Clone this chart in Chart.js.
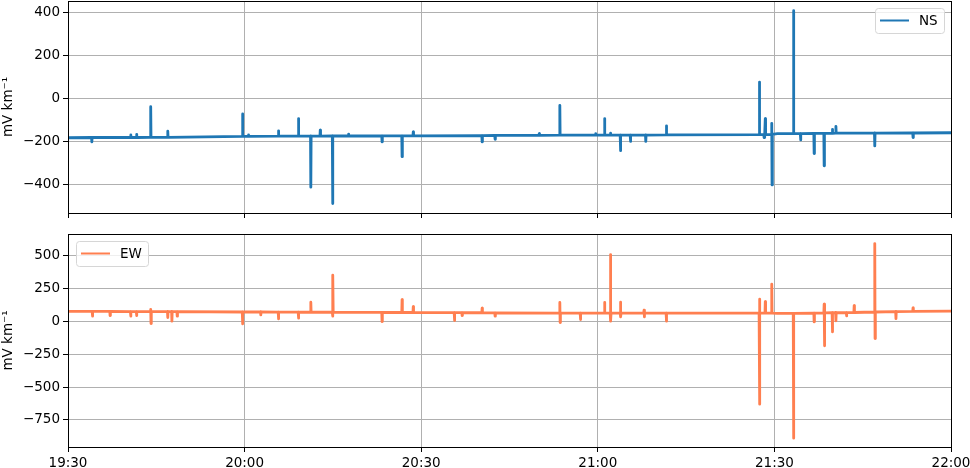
<!DOCTYPE html>
<html>
<head>
<meta charset="utf-8">
<script src="https://cdn.jsdelivr.net/npm/chart.js@4"></script>
<style>
  html, body { margin: 0; padding: 0; background: #fff; }
  #wrap { position: relative; width: 970px; height: 468px; }
  canvas { position: absolute; left: 0; }
  #nsChart { top: 0; }
  #ewChart { top: 230px; }
</style>
</head>
<body>
<div id="wrap">
  <canvas id="nsChart" width="970" height="230"></canvas>
  <canvas id="ewChart" width="970" height="238"></canvas>
</div>
<script>
// minutes after 19:30
const timeLabels = ['19:30', '20:00', '20:30', '21:00', '21:30', '22:00'];
const nsTicks = [-400, -200, 0, 200, 400];
const ewTicks = [-750, -500, -250, 0, 250, 500];

const nsMinutes = [
  0,
  4.0, 4.05, 4.1,
  10.6, 10.65, 10.7,
  11.6, 11.65, 11.7,
  14.0, 14.05, 14.1,
  16.9, 16.95, 17.0,
  29.6, 29.65, 29.7,
  30.6, 30.65, 30.7,
  35.7, 35.75, 35.8,
  39.1, 39.15, 39.2,
  41.2, 41.25, 41.3,
  42.8, 42.85, 42.9,
  44.9, 44.95, 45.0,
  47.6, 47.65, 47.7,
  53.3, 53.35, 53.4,
  56.7, 56.75, 56.8,
  58.6, 58.65, 58.7,
  70.3, 70.35, 70.4,
  72.5, 72.55, 72.6,
  80.0, 80.05, 80.1,
  83.5, 83.55, 83.6,
  89.6, 89.65, 89.7,
  91.1, 91.15, 91.2,
  92.1, 92.15, 92.2,
  93.8, 93.85, 93.9,
  95.5, 95.55, 95.6,
  98.1, 98.15, 98.2,
  101.6, 101.65, 101.7,
  117.4, 117.45, 117.5,
  118.2, 118.25, 118.3,
  118.4, 118.45, 118.5,
  119.5, 119.55, 119.6, 119.65,
  120.5,
  123.2, 123.25, 123.3,
  124.4, 124.45, 124.5,
  126.7, 126.75, 126.8,
  128.4, 128.45, 128.5,
  129.8, 129.85, 129.9,
  130.4, 130.45, 130.5,
  137.0, 137.05, 137.1,
  143.5, 143.55, 143.6,
  150
];
const nsValues = [
  -181,
  -180, -200, -180,
  -180, -168, -180,
  -180, -165, -180,
  -179, -37, -179,
  -179, -151, -179,
  -175, -71, -175,
  -175, -168, -175,
  -174, -149, -174,
  -174, -92, -174,
  -174, -410, -174,
  -174, -146, -174,
  -173, -486, -173,
  -173, -164, -173,
  -172, -200, -172,
  -172, -269, -172,
  -172, -154, -172,
  -171, -200, -171,
  -170, -188, -170,
  -170, -162, -170,
  -169, -31, -169,
  -169, -162, -169,
  -169, -92, -169,
  -169, -160, -169,
  -169, -241, -169,
  -169, -198, -169,
  -169, -198, -169,
  -168, -126, -168,
  -167, 77, -167,
  -167, -180, -167,
  -167, -92, -167,
  -167, -114, -400, -165,
  -162,
  -162, 408, -162,
  -162, -191, -162,
  -161, -254, -161,
  -161, -311, -161,
  -161, -142, -161,
  -160, -128, -160,
  -160, -219, -160,
  -159, -180, -159,
  -158
];

const ewMinutes = [
  0,
  4.1, 4.15, 4.2,
  7.1, 7.15, 7.2,
  10.6, 10.65, 10.7,
  11.6, 11.65, 11.7,
  14.0, 14.05, 14.1, 14.15,
  16.9, 16.95, 17.0,
  17.6, 17.65, 17.7,
  18.5, 18.55, 18.6,
  29.6, 29.65, 29.7,
  32.7, 32.75, 32.8,
  35.7, 35.75, 35.8,
  39.1, 39.15, 39.2,
  41.2, 41.25, 41.3,
  44.9, 44.95, 45.0, 45.05,
  53.3, 53.35, 53.4,
  56.7, 56.75, 56.8,
  58.6, 58.65, 58.7,
  65.6, 65.65, 65.7,
  66.9, 66.95, 67.0,
  70.3, 70.35, 70.4,
  72.5, 72.55, 72.6,
  83.5, 83.55, 83.6, 83.65,
  87.0, 87.05, 87.1,
  91.1, 91.15, 91.2,
  92.1, 92.15, 92.2, 92.25,
  93.8, 93.85, 93.9, 93.95,
  97.8, 97.85, 97.9, 97.95,
  101.6, 101.65, 101.7,
  117.4, 117.45, 117.5, 117.55,
  118.4, 118.45, 118.5,
  119.5, 119.55, 119.6,
  120.5,
  123.2, 123.25, 123.3,
  126.7, 126.75, 126.8,
  128.4, 128.45, 128.5, 128.55,
  129.8, 129.85, 129.9,
  130.4, 130.45, 130.5,
  132.2, 132.25, 132.3,
  133.5, 133.55, 133.6,
  137.0, 137.05, 137.1, 137.15,
  140.6, 140.65, 140.7,
  143.5, 143.55, 143.6,
  150
];
const ewValues = [
  74,
  74, 38, 74,
  74, 43, 74,
  73, 38, 73,
  73, 43, 73,
  73, 89, -18, 73,
  72, 28, 72,
  72, 0, 72,
  72, 38, 72,
  70, -20, 70,
  70, 48, 70,
  69, 18, 69,
  69, 23, 69,
  68, 144, 68,
  68, 38, 349, 68,
  67, -3, 67,
  66, 164, 66,
  66, 111, 66,
  65, 5, 65,
  65, 43, 65,
  64, 99, 64,
  63, 38, 63,
  62, 142, -10, 62,
  62, 13, 62,
  62, 142, 62,
  62, 506, 0, 62,
  62, 144, 33, 62,
  61, 83, 33, 61,
  61, 0, 61,
  61, 167, -630, 61,
  61, 149, 61,
  61, 281, 61,
  60,
  60, -888, 60,
  62, -5, 62,
  63, 129, -187, 63,
  64, -81, 64,
  64, 3, 64,
  65, 40, 65,
  66, 119, 66,
  70, 589, -132, 70,
  72, 20, 72,
  74, 101, 74,
  76
];

const NS_COLOR = '#1f77b4';
const EW_COLOR = '#ff7f50';
const FONT = 'DejaVu Sans';
const FONT_SIZE = 13.5;

Chart.defaults.font.family = FONT;
Chart.defaults.font.size = FONT_SIZE;
Chart.defaults.color = '#000';

// black box round the plot + matplotlib style legend
const frameAndLegend = {
  id: 'frameAndLegend',
  afterDraw(chart, args, opts) {
    const { ctx, chartArea: a } = chart;
    ctx.save();
    ctx.strokeStyle = '#000';
    ctx.lineWidth = 1;
    const l = Math.round(a.left) + 0.5, t = Math.round(a.top) + 0.5;
    const r = Math.round(a.right) + 0.5, b = Math.round(a.bottom) + 0.5;
    ctx.strokeRect(l, t, r - l, b - t);

    const w = opts.boxWidth, h = 25;
    const x = opts.side === 'right' ? a.right - 7 - w : a.left + 8;
    const y = a.top + 7;
    ctx.beginPath();
    ctx.roundRect(x + 0.5, y + 0.5, w, h, 3);
    ctx.fillStyle = 'rgba(255,255,255,0.8)';
    ctx.fill();
    ctx.strokeStyle = '#d6d6d6';
    ctx.stroke();

    ctx.beginPath();
    ctx.strokeStyle = opts.color;
    ctx.lineWidth = 2;
    ctx.moveTo(x + 5, y + h / 2);
    ctx.lineTo(x + 34, y + h / 2);
    ctx.stroke();

    ctx.fillStyle = '#000';
    ctx.font = FONT_SIZE + 'px "' + FONT + '"';
    ctx.textBaseline = 'middle';
    ctx.fillText(opts.label, x + 44, y + h / 2 + 1);
    ctx.restore();
  }
};

function makeChart(id, minutes, values, color, label, yMin, yMax, yTicks, showX, topPad, xHeight, legendSide, boxWidth) {
  const ctx = document.getElementById(id).getContext('2d');
  return new Chart(ctx, {
    type: 'line',
    data: {
      datasets: [{
        label: label,
        data: minutes.map((m, i) => ({ x: m, y: values[i] })),
        borderColor: color,
        borderWidth: 2.8,
        borderJoinStyle: 'round',
        pointRadius: 0,
        tension: 0,
        fill: false
      }]
    },
    options: {
      responsive: false,
      animation: false,
      events: [],
      layout: { padding: { left: 0, right: 19, top: topPad, bottom: 0 } },
      plugins: {
        legend: { display: false },
        tooltip: { enabled: false },
        frameAndLegend: { label: label, color: color, side: legendSide, boxWidth: boxWidth }
      },
      scales: {
        x: {
          type: 'linear',
          min: 0,
          max: 150,
          afterBuildTicks: (scale) => {
            scale.ticks = timeLabels.map((t, i) => ({ value: i * 30 }));
          },
          afterFit: (scale) => {
            scale.height = xHeight;
            scale.paddingLeft = 0;
            scale.paddingRight = 0;
          },
          ticks: {
            maxRotation: 0,
            autoSkip: false,
            padding: 3,
            callback: (v) => showX ? timeLabels[Math.round(v / 30)] : ''
          },
          grid: { color: '#b0b0b0', lineWidth: 1, tickColor: '#000', tickLength: 5 },
          border: { color: '#000', width: 1 }
        },
        y: {
          min: yMin,
          max: yMax,
          afterBuildTicks: (scale) => {
            scale.ticks = yTicks.map(v => ({ value: v }));
          },
          afterFit: (scale) => {
            scale.width = 68;
            scale.paddingTop = 0;
            scale.paddingBottom = 0;
          },
          title: { display: true, text: 'mV km⁻¹', padding: { top: 0, bottom: 2 } },
          ticks: {
            padding: 3,
            callback: (v) => String(v).replace('-', '\u2212')
          },
          grid: { color: '#b0b0b0', lineWidth: 1, tickColor: '#000', tickLength: 5 },
          border: { color: '#000', width: 1 }
        }
      }
    },
    plugins: [frameAndLegend]
  });
}

makeChart('nsChart', nsMinutes, nsValues, NS_COLOR, 'NS', -530, 453, nsTicks, false, 1, 17, 'right', 69);
makeChart('ewChart', ewMinutes, ewValues, EW_COLOR, 'EW', -955, 662, ewTicks, true, 4, 21, 'left', 72);
</script>
</body>
</html>
